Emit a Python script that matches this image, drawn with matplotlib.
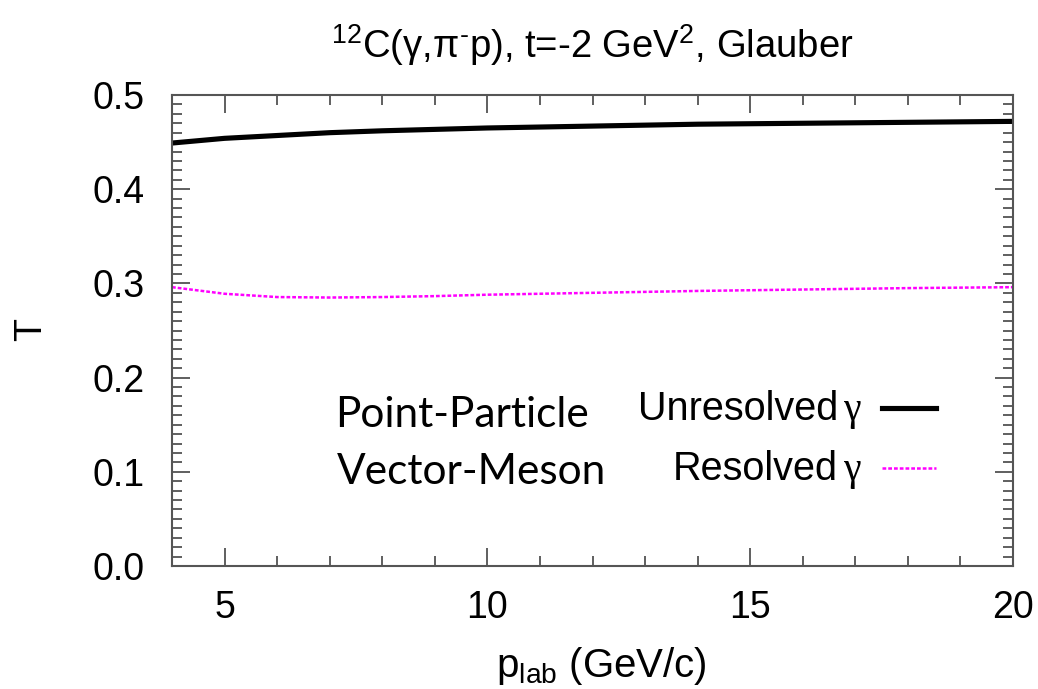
import matplotlib
matplotlib.use("Agg")
import matplotlib.pyplot as plt
from matplotlib.ticker import MultipleLocator, FormatStrFormatter

p_lab = [4, 5, 6, 7, 8, 9, 10, 12, 14, 16, 18, 20]
T_unresolved = [0.449, 0.454, 0.457, 0.460, 0.462, 0.4635, 0.465, 0.467, 0.469, 0.470, 0.471, 0.472]
T_resolved = [0.296, 0.289, 0.2855, 0.285, 0.2855, 0.2865, 0.288, 0.290, 0.292, 0.2935, 0.295, 0.296]

plt.rcParams['font.family'] = ['Liberation Sans', 'DejaVu Sans']
plt.rcParams['mathtext.fontset'] = 'custom'
plt.rcParams['mathtext.rm'] = 'Liberation Sans'
plt.rcParams['mathtext.it'] = 'Liberation Sans'
plt.rcParams['mathtext.default'] = 'rm'

W, H = 1038, 689
fig = plt.figure(figsize=(W / 100, H / 100), dpi=100)
ax = fig.add_axes([172 / W, 1 - 566 / H, (1013 - 172) / W, (566 - 95) / H])

MAG = '#ff00ff'
ax.plot(p_lab, T_unresolved, color='black', lw=3.7, solid_capstyle='butt')
ax.plot(p_lab, T_resolved, color=MAG, lw=1.8, linestyle=(0, (1.5, 0.8)))

ax.set_xlim(4, 20)
ax.set_ylim(0, 0.5)
ax.xaxis.set_major_locator(MultipleLocator(5))
ax.xaxis.set_minor_locator(MultipleLocator(1))
ax.yaxis.set_major_locator(MultipleLocator(0.1))
ax.yaxis.set_minor_locator(MultipleLocator(0.01))
ax.yaxis.set_major_formatter(FormatStrFormatter('%.1f'))
ax.tick_params(which='both', direction='in', top=True, right=True, color='#444444', width=1.2)
ax.tick_params(which='major', length=13, labelsize=27)
ax.tick_params(axis='y', which='major', pad=19.5)
ax.tick_params(axis='x', which='major', pad=17)
ax.tick_params(which='minor', length=7)
for s in ax.spines.values():
    s.set_color('#555555')
    s.set_linewidth(1.5)

def px(x, y):
    return x / W, 1 - y / H

# title
fig.text(*px(592, 58), '$^{12}$C(\u03b3,\u03c0$^{\u2010}$p), t=-2 GeV$^{2}$, Glauber',
         fontsize=27.5, ha='center', va='baseline')
# x label
fig.text(*px(601, 677), 'p$_{\\mathrm{lab}}$ (GeV/c)', fontsize=29, ha='center', va='baseline')
# y label
fig.text(*px(31, 330), 'T', fontsize=27, ha='center', va='center', rotation=90)

# annotations
fig.text(*px(335, 427), 'Point-Particle', fontsize=30.5, family=['Lato', 'DejaVu Sans'],
         ha='left', va='baseline')
fig.text(*px(337, 484), 'Vector-Meson', fontsize=30.5, family=['Lato', 'DejaVu Sans'],
         ha='left', va='baseline')

# legend
fig.text(*px(838, 420), 'Unresolved', fontsize=28.5, ha='right', va='baseline')
fig.text(*px(843, 420), '\u03b3', fontsize=28.5, family=['Liberation Serif', 'DejaVu Serif'],
         ha='left', va='baseline')
fig.text(*px(838, 480), 'Resolved', fontsize=28.5, ha='right', va='baseline')
fig.text(*px(843, 480), '\u03b3', fontsize=28.5, family=['Liberation Serif', 'DejaVu Serif'],
         ha='left', va='baseline')
fig.add_artist(plt.Line2D([882 / W, 936 / W], [1 - 408 / H, 1 - 408 / H], color='black', lw=3.7))
fig.add_artist(plt.Line2D([882 / W, 936 / W], [1 - 468 / H, 1 - 468 / H], color=MAG, lw=1.8,
                          linestyle=(0, (1.5, 0.8))))

fig.savefig('out.png', dpi=100)
